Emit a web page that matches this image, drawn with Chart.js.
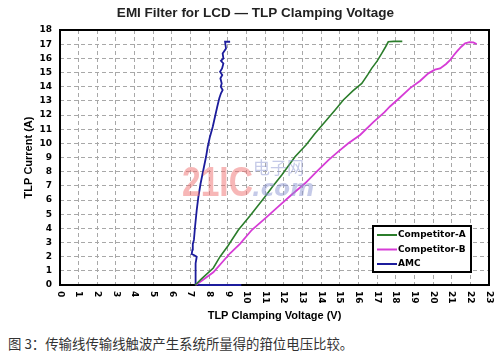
<!DOCTYPE html>
<html>
<head>
<meta charset="utf-8">
<script src="https://cdn.jsdelivr.net/npm/chart.js@4"></script>
<style>
  html, body { margin: 0; padding: 0; background: #fff; }
  #wrap { position: relative; width: 500px; height: 358px; }
  #c { position: absolute; left: 0; top: 0; }
  #cap { position: absolute; left: 8px; top: 334px; height: 18px; line-height: 18px;
         font-family: "Noto Sans CJK SC", sans-serif; font-size: 13.4px; color: #333; white-space: nowrap; }
</style>
</head>
<body>
<div id="wrap">
  <canvas id="c" width="500" height="328"></canvas>
  <div id="cap">图 3：传输线传输线触波产生系统所量得的箝位电压比较。</div>
</div>
<script>
// ---- data ----
const chartTitle = "EMI Filter for LCD \u2014 TLP Clamping Voltage";
const xAxisTitle = "TLP Clamping Voltage (V)";
const yAxisTitle = "TLP Current (A)";
const seriesNames = ["Competitor-A", "Competitor-B", "AMC"];

const compAVoltage = [7.25, 7.6, 8.22, 8.58, 9.0, 9.56, 10.2, 10.99, 11.4, 11.89, 12.6, 13.2, 13.67, 14.2, 14.75, 15.19, 15.7, 16.18, 16.5, 16.71, 17.0, 17.25, 17.45, 17.6, 17.9, 18.35];
const compACurrent = [0.0, 0.45, 1.2, 2.0, 2.75, 3.88, 4.9, 6.23, 6.95, 7.76, 9.05, 9.9, 10.7, 11.5, 12.35, 13.06, 13.7, 14.23, 14.85, 15.29, 15.8, 16.35, 16.8, 17.17, 17.2, 17.2];

const compBVoltage = [7.26, 7.6, 8.22, 9.12, 9.65, 10.28, 11.0, 11.7, 12.4, 13.14, 13.76, 14.39, 14.9, 15.46, 16.09, 16.8, 17.4, 17.69, 18.2, 18.77, 19.3, 19.75, 20.1, 20.38, 20.7, 20.91, 21.1, 21.27, 21.5, 21.72, 21.95, 22.16, 22.34];
const compBCurrent = [0.0, 0.3, 0.9, 2.24, 2.9, 3.88, 4.7, 5.53, 6.35, 7.18, 8.0, 8.82, 9.4, 10.0, 10.59, 11.5, 12.2, 12.6, 13.2, 13.9, 14.4, 14.94, 15.2, 15.29, 15.6, 15.88, 16.2, 16.47, 16.8, 17.06, 17.15, 17.12, 17.0];

const amcVoltage = [9.72, 8.5, 7.5, 7.29, 7.28, 7.24, 7.29, 7.33, 7.2, 7.06, 7.1, 7.12, 7.18, 7.24, 7.33, 7.42, 7.54, 7.72, 7.83, 7.92, 8.04, 8.19, 8.31, 8.43, 8.54, 8.63, 8.72, 8.62, 8.67, 8.60, 8.70, 8.58, 8.69, 8.76, 8.63, 8.76, 8.72, 8.90, 8.85, 9.12];
const amcCurrent = [0.0, 0.0, 0.0, 0.05, 0.5, 0.82, 1.53, 2.0, 2.1, 2.19, 2.5, 2.9, 3.18, 4.11, 5.29, 6.23, 7.18, 8.35, 9.05, 9.76, 10.47, 11.17, 11.88, 12.58, 13.18, 13.53, 13.76, 14.0, 14.23, 14.59, 14.82, 15.05, 15.29, 15.64, 15.83, 16.0, 16.35, 16.7, 17.17, 17.17];

const xMin = 0, xMax = 23, yMin = 0, yMax = 18;
const seriesColors = ["#2b7d2b", "#d63cd6", "#1c1c9c"];

function pts(xs, ys) { return xs.map((x, i) => ({ x: x, y: ys[i] })); }

const extras = {
  id: 'extras',
  beforeDatasetsDraw(chart) {
    const a = chart.chartArea, ctx = chart.ctx;
    ctx.save();
    ctx.strokeStyle = '#000';
    ctx.lineWidth = 2;
    ctx.strokeRect(a.left, a.top, a.right - a.left, a.bottom - a.top);
    ctx.restore();
  },
  afterDatasetsDraw(chart) {
    const ctx = chart.ctx;
    // faint watermark
    ctx.save();
    ctx.globalAlpha = 0.5;
    ctx.fillStyle = '#f07070';
    ctx.font = 'bold 42px "Liberation Sans", sans-serif';
    ctx.textBaseline = 'alphabetic';
    ctx.translate(182, 196);
    ctx.scale(0.8, 1);
    ctx.fillText('21IC', 0, 0);
    ctx.restore();
    ctx.save();
    ctx.globalAlpha = 0.5;
    ctx.fillStyle = '#8c96d2';
    ctx.font = '17px "Noto Sans CJK SC", sans-serif';
    ctx.textBaseline = 'top';
    ctx.fillText('电子网', 253, 159);
    ctx.font = 'italic bold 23px "DejaVu Sans", sans-serif';
    ctx.textBaseline = 'alphabetic';
    ctx.fillText('.com', 252, 196);
    ctx.restore();
  },
  afterDraw(chart) {
    const ctx = chart.ctx, xs = chart.scales.x, a = chart.chartArea;
    // x tick labels, rotated clockwise
    ctx.save();
    ctx.fillStyle = '#000';
    ctx.font = 'bold 9px "DejaVu Sans", sans-serif';
    ctx.textAlign = 'left';
    ctx.textBaseline = 'middle';
    xs.ticks.forEach(t => {
      const px = xs.getPixelForValue(t.value);
      ctx.save();
      ctx.translate(px, a.bottom + 6);
      ctx.rotate(Math.PI / 2);
      ctx.fillText(String(t.value), 0, 0);
      ctx.restore();
    });
    ctx.restore();
    // legend box
    const bx = 373, by = 226, bw = 98, bh = 46;
    ctx.save();
    ctx.fillStyle = '#fff';
    ctx.fillRect(bx, by, bw, bh);
    ctx.strokeStyle = '#000';
    ctx.lineWidth = 2;
    ctx.strokeRect(bx, by, bw, bh);
    ctx.font = 'bold 9px "DejaVu Sans", sans-serif';
    ctx.textBaseline = 'middle';
    ctx.textAlign = 'left';
    chart.data.datasets.forEach((ds, i) => {
      const yy = by + 9 + i * 14.5;
      ctx.strokeStyle = ds.borderColor;
      ctx.lineWidth = 2;
      ctx.beginPath();
      ctx.moveTo(bx + 4, yy);
      ctx.lineTo(bx + 24, yy);
      ctx.stroke();
      ctx.fillStyle = '#000';
      ctx.fillText(ds.label, bx + 25, yy);
    });
    ctx.restore();
  }
};

new Chart(document.getElementById('c'), {
  type: 'line',
  data: {
    datasets: [
      { label: seriesNames[0], data: pts(compAVoltage, compACurrent), borderColor: seriesColors[0], borderWidth: 1.6, pointRadius: 0, tension: 0, clip: 4 },
      { label: seriesNames[1], data: pts(compBVoltage, compBCurrent), borderColor: seriesColors[1], borderWidth: 1.8, pointRadius: 0, tension: 0, clip: 4 },
      { label: seriesNames[2], data: pts(amcVoltage, amcCurrent), borderColor: seriesColors[2], borderWidth: 1.8, pointRadius: 0, tension: 0, clip: 4 }
    ]
  },
  options: {
    responsive: false,
    animation: false,
    devicePixelRatio: 1,
    layout: { padding: { left: 22, right: 11, top: 0, bottom: 0 } },
    plugins: {
      legend: { display: false },
      tooltip: { enabled: false },
      title: {
        display: true, text: chartTitle, color: '#222',
        font: { family: '"Liberation Sans", sans-serif', size: 13.5, weight: 'bold', lineHeight: 1.2 },
        padding: { top: 5, bottom: 8.8 }
      }
    },
    scales: {
      x: {
        type: 'linear', min: xMin, max: xMax,
        ticks: { stepSize: 1, display: false },
        grid: { color: '#a8a8a8', lineWidth: 1, drawTicks: false },
        border: { display: false, dash: [4, 3] },
        title: { display: true, text: xAxisTitle, color: '#000',
                 font: { family: '"Liberation Sans", sans-serif', size: 11, weight: 'bold' },
                 padding: { top: 0, bottom: 5 } },
        afterFit(s) { s.height = 43; }
      },
      y: {
        type: 'linear', min: yMin, max: yMax,
        ticks: { stepSize: 1, color: '#000', padding: 8,
                 font: { family: '"DejaVu Sans", sans-serif', size: 9, weight: 'bold' } },
        grid: { color: '#a8a8a8', lineWidth: 1, drawTicks: false },
        border: { display: false, dash: [4, 3] },
        title: { display: true, text: yAxisTitle, color: '#000',
                 font: { family: '"Liberation Sans", sans-serif', size: 11, weight: 'bold' },
                 padding: { top: 0, bottom: 0 } },
        afterFit(s) { s.width = 38; }
      }
    }
  },
  plugins: [extras]
});
</script>
</body>
</html>
